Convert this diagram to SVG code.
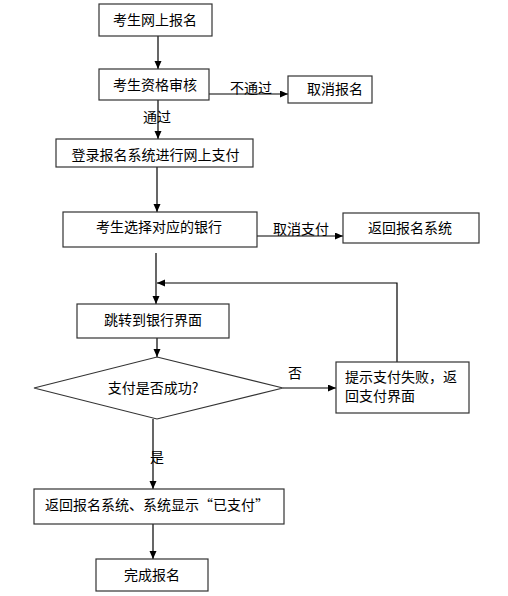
<svg xmlns="http://www.w3.org/2000/svg" width="508" height="596" viewBox="0 0 508 596">
<style>
.box{fill:#fff;stroke:#333;stroke-width:1.2}
.ln{fill:none;stroke:#000;stroke-width:1.2}
text{font-family:"Noto Sans CJK SC","Noto Sans",sans-serif;font-size:14px;fill:#000}
.c{text-anchor:middle}
</style>
<defs>
<marker id="ah" markerUnits="userSpaceOnUse" markerWidth="9" markerHeight="8" refX="8" refY="3.5" orient="auto">
<path d="M0,0 L8,3.5 L0,7 z" fill="#000"/>
</marker>
</defs>
<rect width="508" height="596" fill="#fff"/>
<g id="connectors">
<line class="ln" x1="158" y1="36" x2="158" y2="69" marker-end="url(#ah)"/>
<line class="ln" x1="209" y1="94" x2="288" y2="94" marker-end="url(#ah)"/>
<line class="ln" x1="158" y1="100" x2="158" y2="139" marker-end="url(#ah)"/>
<line class="ln" x1="157" y1="167" x2="157" y2="212" marker-end="url(#ah)"/>
<line class="ln" x1="257" y1="236" x2="343" y2="236" marker-end="url(#ah)"/>
<line class="ln" x1="156" y1="253" x2="156" y2="304" marker-end="url(#ah)"/>
<polyline class="ln" points="397,362 397,283 157,283" marker-end="url(#ah)"/>
<line class="ln" x1="157" y1="338" x2="157" y2="357" marker-end="url(#ah)"/>
<line class="ln" x1="283" y1="388" x2="336" y2="388" marker-end="url(#ah)"/>
<line class="ln" x1="153" y1="419" x2="153" y2="489" marker-end="url(#ah)"/>
<line class="ln" x1="153" y1="524" x2="153" y2="559" marker-end="url(#ah)"/>
<text x="230" y="93">不通过</text>
<text x="143" y="122">通过</text>
<text x="273" y="234">取消支付</text>
<text x="288" y="378">否</text>
<text x="150" y="462">是</text>
</g>
<g id="n1"><rect class="box" x="99" y="4" width="113" height="32"/><text class="c" x="155" y="25">考生网上报名</text></g>
<g id="n2"><rect class="box" x="99" y="69" width="110" height="31"/><text class="c" x="155" y="90">考生资格审核</text></g>
<g id="n3"><rect class="box" x="288" y="76" width="84" height="27"/><text class="c" x="335" y="94">取消报名</text></g>
<g id="n4"><rect class="box" x="56" y="139" width="197" height="28"/><text class="c" x="155.5" y="160">登录报名系统进行网上支付</text></g>
<g id="n5"><rect class="box" x="63" y="212" width="194" height="35"/><text class="c" x="159" y="232">考生选择对应的银行</text></g>
<g id="n6"><rect class="box" x="343" y="213" width="136" height="30"/><text class="c" x="410" y="233">返回报名系统</text></g>
<g id="n7"><rect class="box" x="77" y="304" width="152" height="34"/><text class="c" x="153" y="325">跳转到银行界面</text></g>
<g id="n8"><polygon class="box" points="157,357 283,388 157,419 34,388"/><text class="c" x="153" y="393">支付是否成功?</text></g>
<g id="n9"><rect class="box" x="336" y="362" width="133" height="51"/><text x="345" y="382">提示支付失败，返</text><text x="345" y="401">回支付界面</text></g>
<g id="n10"><rect class="box" x="34" y="489" width="250" height="35"/><text class="c" x="157" y="510">返回报名系统、系统显示“已支付”</text></g>
<g id="n11"><rect class="box" x="96" y="559" width="112" height="32"/><text class="c" x="152" y="580">完成报名</text></g>
</svg>
